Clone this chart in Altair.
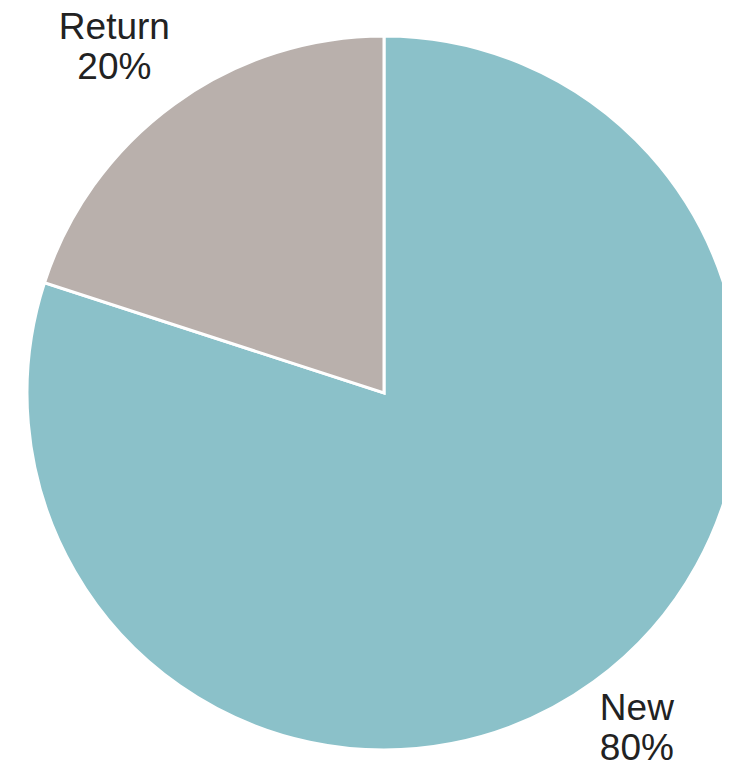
import altair as alt
import pandas as pd
import math

categories = ["New", "Return"]
values = [80, 20]
labels = ["New\n80%", "Return\n20%"]
colors = ["#8BC1C9", "#B9B0AC"]

df = pd.DataFrame({"category": categories, "value": values, "label": labels,
                   "order": list(range(len(categories)))})

base = alt.Chart(df).encode(
    x=alt.value(376),
    y=alt.value(385),
)

pie = base.mark_arc(outerRadius=357, stroke="white", strokeWidth=3).encode(
    theta=alt.Theta("value:Q", stack=True),
    order=alt.Order("order:Q"),
    color=alt.Color("category:N", scale=alt.Scale(domain=categories, range=colors), legend=None)
)

text_base = base.transform_window(
    cum="sum(value)", sort=[alt.SortField("order")]
).transform_calculate(
    mid="datum.cum - datum.value / 2"
).encode(
    theta=alt.Theta("mid:Q", scale=alt.Scale(domain=[0, 100], range=[0, 2 * math.pi])),
    text="label:N",
)

text_style = dict(font="Liberation Sans", fontSize=37, color="#222222",
                  lineBreak="\n", align="center", baseline="middle", lineHeight=40)

text_new = text_base.transform_filter(alt.datum.category == "New").mark_text(
    radius=420, dx=6, dy=-24, **text_style)

text_ret = text_base.transform_filter(alt.datum.category == "Return").mark_text(
    radius=440, dx=-11, dy=-9, **text_style)

chart = (pie + text_new + text_ret).properties(
    width=714, height=757, padding=0, autosize=alt.AutoSizeParams(type="none")
).configure_view(stroke=None)

chart.save("out.html", embed_options={"renderer": "svg", "actions": False})
